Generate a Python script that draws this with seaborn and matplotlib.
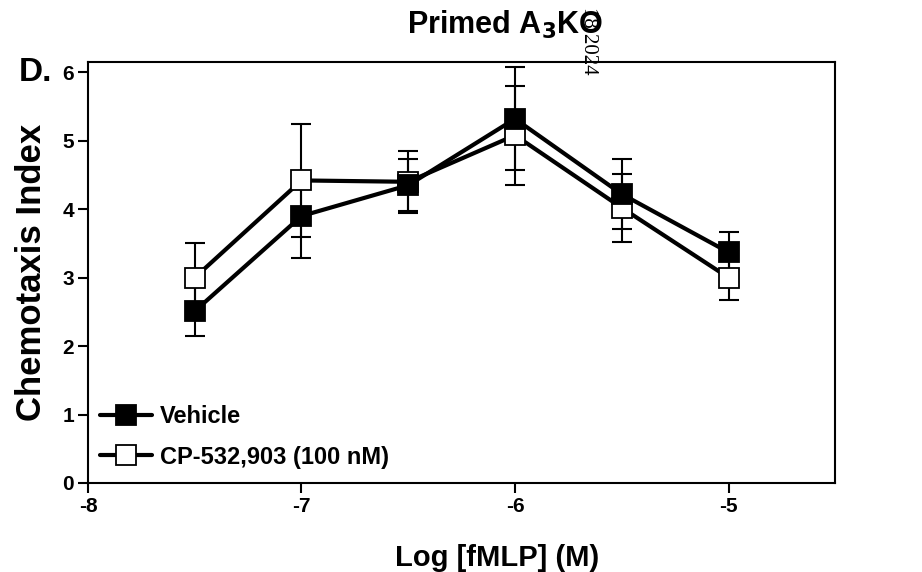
import numpy as np
import pandas as pd
from matplotlib import pyplot as plt
import seaborn as sns

log_fmlp = [-7.5, -7.0, -6.5, -6.0, -5.5, -5.0]
vehicle = [2.51, 3.90, 4.35, 5.32, 4.22, 3.37]
vehicle_err = [0.36, 0.62, 0.38, 0.75, 0.51, 0.30]
cp = [3.00, 4.42, 4.40, 5.08, 4.02, 3.00]
cp_err = [0.50, 0.83, 0.45, 0.72, 0.50, 0.32]
labels = ["Vehicle", "CP-532,903 (100 nM)"]

df = pd.concat([
    pd.DataFrame({"x": log_fmlp, "y": vehicle, "err": vehicle_err, "group": labels[0]}),
    pd.DataFrame({"x": log_fmlp, "y": cp, "err": cp_err, "group": labels[1]}),
])

sns.set_style("ticks")
plt.rcParams["font.family"] = ["Liberation Sans", "DejaVu Sans"]
plt.rcParams["font.weight"] = "bold"
plt.rcParams["axes.unicode_minus"] = False
plt.rcParams["text.color"] = "black"
plt.rcParams["axes.labelcolor"] = "black"
plt.rcParams["xtick.color"] = "black"
plt.rcParams["ytick.color"] = "black"

fig = plt.figure(figsize=(9.22, 5.72), dpi=100)
ax = fig.add_axes([0.0954, 0.1556, 0.8106, 0.736])

faces = {labels[0]: "black", labels[1]: "white"}
for name, z in [(labels[1], 3), (labels[0], 4)]:
    sub = df[df["group"] == name]
    ax.errorbar(sub["x"], sub["y"], yerr=sub["err"], fmt="none", ecolor="black",
                elinewidth=1.5, capsize=7, capthick=1.5, zorder=2)
    sns.lineplot(data=sub, x="x", y="y", ax=ax, color="black", linewidth=3.0,
                 marker="s", markersize=14, markerfacecolor=faces[name],
                 markeredgecolor="black", markeredgewidth=1.3, label=name,
                 zorder=z)

ax.set_xlim(-8, -4.5)
ax.set_ylim(0, 6.15)
ax.set_xticks([-8, -7, -6, -5])
ax.set_yticks([0, 1, 2, 3, 4, 5, 6])
ax.tick_params(axis="both", direction="out", length=7, width=1.5, labelsize=15,
               pad=3)
for s in ax.spines.values():
    s.set_linewidth(1.5)
    s.set_color("black")
ax.set_xlabel("Log [fMLP] (M)", fontsize=21, fontweight="bold")
ax.xaxis.set_label_coords(0.547, -0.145)
ax.set_ylabel("Chemotaxis Index", fontsize=25, fontweight="bold", labelpad=10)

h, l = ax.get_legend_handles_labels()
order = [l.index(labels[0]), l.index(labels[1])]
ax.legend([h[i] for i in order], [l[i] for i in order], loc="lower left",
          frameon=False, fontsize=17, handlelength=2.2, handletextpad=0.35,
          borderaxespad=0.0, labelspacing=0.75, bbox_to_anchor=(0.003, 0.012))

fig.text(0.548, 0.956, "Primed A$_\\mathbf{3}$KO", ha="center", va="center",
         fontsize=22, fontweight="bold")
fig.text(0.02, 0.874, "D.", ha="left", va="center", fontsize=24, fontweight="bold")
fig.text(0.638, 0.869, "18 2024", ha="center", va="bottom", rotation=-90,
         fontsize=15, family="Liberation Serif", fontweight="normal")

plt.savefig("out.png", dpi=100)
